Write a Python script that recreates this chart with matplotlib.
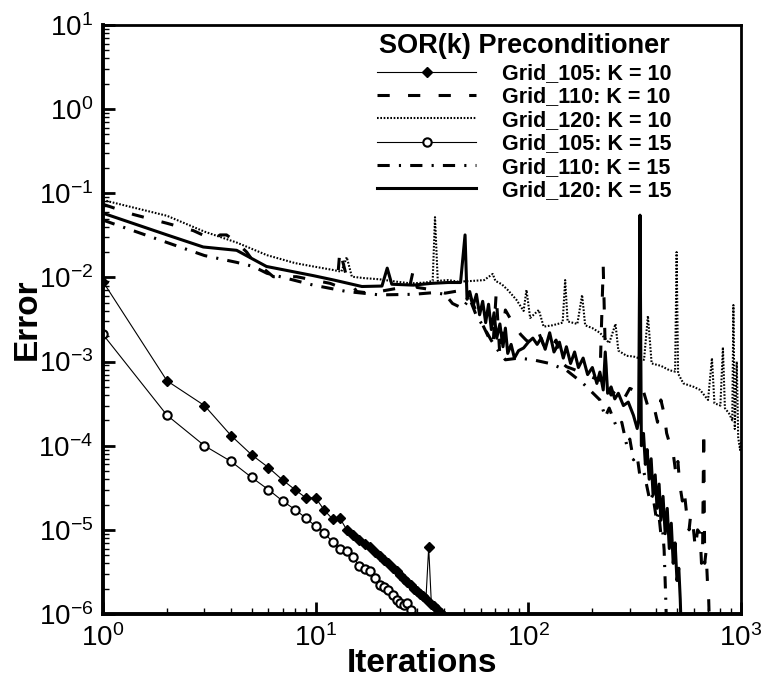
import matplotlib
matplotlib.use("Agg")
import matplotlib.pyplot as plt
from matplotlib.ticker import FixedLocator, LogFormatterSciNotation, NullFormatter

plt.rcParams['font.family'] = ['Liberation Sans', 'DejaVu Sans']
plt.rcParams['mathtext.fontset'] = 'custom'
plt.rcParams['mathtext.rm'] = 'Liberation Sans'
plt.rcParams['mathtext.it'] = 'Liberation Sans:italic'
plt.rcParams['mathtext.bf'] = 'Liberation Sans:bold'

# --- data ---
it_105_k10 = list(range(1, 41))
err_105_k10 = [8.9e-3, 5.9e-4, 3.0e-4, 1.32e-4, 7.8e-5, 5.5e-5, 3.9e-5, 3.0e-5, 2.4e-5, 2.4e-5,
               1.7e-5, 1.35e-5, 1.38e-5, 1.0e-5, 8.7e-6, 7.6e-6, 6.8e-6, 6.3e-6, 5.5e-6, 4.9e-6,
               4.4e-6, 4.0e-6, 3.5e-6, 3.2e-6, 2.9e-6, 2.6e-6, 2.4e-6, 2.2e-6, 2.0e-6, 1.86e-6,
               1.74e-6, 1.62e-6, 1.51e-6, 6.2e-6, 1.32e-6, 1.23e-6, 1.15e-6, 1.07e-6, 1.02e-6, 9.5e-7]

it_105_k15 = list(range(1, 30))
err_105_k15 = [2.1e-3, 2.3e-4, 1.0e-4, 6.5e-5, 4.2e-5, 3.0e-5, 2.2e-5, 1.74e-5, 1.38e-5, 1.1e-5,
               9.3e-6, 7.1e-6, 6.0e-6, 5.6e-6, 4.8e-6, 3.7e-6, 3.4e-6, 3.2e-6, 2.7e-6, 2.2e-6,
               2.1e-6, 1.95e-6, 1.7e-6, 1.48e-6, 1.35e-6, 1.29e-6, 1.35e-6, 1.12e-6, 9.3e-7]

it_110_k10 = [1, 1.39, 2, 2.66, 3.3, 3.55, 3.81, 4.25, 4.74, 5.09, 5.78, 6.32, 8.13, 11.7, 12.6, 13.0,
              14.0, 15.6, 18.0, 24, 27.5, 28.8, 30, 35.8, 40.6, 49.7, 53.2, 58, 61.6, 68.2, 70.6,
              73.5, 78, 85, 92, 98, 105, 112, 120, 126, 135, 142, 151, 165, 181, 200, 217, 225,
              232, 245, 260, 280, 300, 312, 330, 348, 370, 390, 405, 420, 435, 447, 465, 480, 495,
              505, 515, 530, 540, 553, 570, 580, 594, 610, 625, 642, 652, 660, 668, 675, 685, 695,
              705, 712]
err_110_k10 = [7.4e-2, 5.6e-2, 4.4e-2, 3.6e-2, 2.8e-2, 3.2e-2, 3.2e-2, 2.6e-2, 2.0e-2, 1.55e-2,
               1.23e-2, 1.02e-2, 1.02e-2, 8.5e-3, 7.9e-3, 2.1e-2, 1.0e-2, 6.8e-3, 6.5e-3, 7.4e-3,
               7.2e-3, 1.23e-2, 7.6e-3, 7.1e-3, 6.5e-3, 7.1e-3, 5.9e-3, 3.5e-3, 2.6e-3, 1.51e-3,
               6.5e-3, 1.15e-3, 4.1e-3, 2.8e-3, 2.1e-3, 1.78e-3, 1.66e-3, 2.2e-3, 1.4e-3, 1.32e-3,
               1.8e-3, 1.0e-3, 8.7e-4, 8.0e-4, 7.2e-4, 6.5e-4, 6.0e-4, 1.35e-2, 5.5e-4, 4.0e-4,
               4.6e-4, 3.5e-4, 4.8e-4, 4.6e-4, 3.8e-4, 4.4e-4, 2.6e-4, 2.9e-4, 1.9e-4, 3.5e-4,
               2.4e-4, 1.41e-4, 1.0e-4, 8.1e-5, 4.5e-5, 6.5e-5, 3.5e-5, 2.2e-5, 3.0e-5, 1.7e-5,
               1.0e-5, 1.5e-5, 1.2e-5, 6.0e-6, 1.0e-5, 9.1e-6, 4.0e-6, 6.3e-6, 1.51e-4, 4.0e-6,
               5.5e-6, 2.5e-6, 1.45e-6, 6.3e-7]

it_120_k10 = [1, 2, 3, 4.25, 5.9, 8, 9.75, 12, 13.2, 14, 14.8, 17, 20, 24, 28, 33, 35.5, 36.4, 37.5,
              42, 47, 55, 62, 68, 70, 75, 80, 88, 95, 98, 102, 112, 118, 130, 145, 149, 153, 170,
              179, 185, 200, 217, 240, 257, 265, 290, 312, 350, 365, 380, 420, 460, 490, 498, 506,
              536, 600, 642, 700, 730, 750, 800, 822, 840, 880, 910, 921, 935, 955, 970, 990, 1000]
err_120_k10 = [8.3e-2, 5.4e-2, 3.5e-2, 2.6e-2, 1.84e-2, 1.48e-2, 1.35e-2, 1.23e-2, 1.17e-2, 1.74e-2,
               1.02e-2, 9.8e-3, 9.5e-3, 8.9e-3, 8.5e-3, 8.7e-3, 9.1e-3, 5.2e-2, 9.1e-3, 9.3e-3,
               8.9e-3, 9.1e-3, 9.3e-3, 1.1e-2, 9.1e-3, 8.3e-3, 7.1e-3, 5.4e-3, 4.0e-3, 7.1e-3,
               3.3e-3, 4.1e-3, 2.6e-3, 2.7e-3, 2.9e-3, 9.3e-3, 3.0e-3, 2.8e-3, 6.2e-3, 2.7e-3,
               2.5e-3, 2.2e-3, 1.66e-3, 2.8e-3, 1.35e-3, 1.17e-3, 1.15e-3, 1.05e-3, 3.5e-3, 9.5e-4,
               8.9e-4, 7.9e-4, 7.6e-4, 2.0e-2, 7.2e-4, 5.5e-4, 5.0e-4, 4.6e-4, 3.5e-4, 1.1e-3,
               3.2e-4, 3.0e-4, 1.48e-3, 2.8e-4, 2.4e-4, 2.0e-4, 4.7e-3, 1.58e-4, 1.0e-3, 1.26e-4,
               8.9e-5, 1.12e-4]

it_110_k15 = [1, 2, 3, 4.25, 5.09, 5.9, 9.75, 14, 20, 28.8, 36, 40.6, 44, 49, 53, 57, 61.6, 67,
              73.5, 78, 90, 105, 126, 151, 181, 217, 230, 240, 260, 275, 291, 300, 312, 325, 335,
              350, 373, 385, 401, 410, 420, 428, 435, 443, 447]
err_110_k15 = [4.8e-2, 2.6e-2, 1.82e-2, 1.51e-2, 1.35e-2, 1.12e-2, 8.1e-3, 6.8e-3, 6.2e-3, 6.3e-3,
               6.6e-3, 6.3e-3, 4.9e-3, 4.3e-3, 5.6e-3, 3.5e-3, 2.6e-3, 1.78e-3, 1.26e-3, 1.05e-3,
               1.1e-3, 1.05e-3, 9.5e-4, 7.9e-4, 5.5e-4, 3.5e-4, 2.2e-4, 2.8e-4, 1.66e-4, 1.9e-4,
               9.8e-5, 1.2e-4, 6.8e-5, 7.5e-5, 4.3e-5, 4.8e-5, 2.2e-5, 2.6e-5, 1.29e-5, 1.6e-5,
               8.9e-6, 1.0e-5, 5.8e-6, 1.45e-6, 6.3e-7]

it_120_k15 = [1, 2, 2.96, 4.25, 5.87, 9.75, 12.2, 16.5, 20.5, 21.7, 22.8, 28.8, 35, 41.8, 48, 50.4,
              51.5, 53, 55, 57, 59, 61, 63, 65, 67, 69, 71, 73.5, 76, 78, 80, 83, 86, 90, 95, 100,
              105, 110, 115, 120, 126, 132, 140, 146, 151, 158, 165, 172, 181, 190, 200, 210, 217,
              225, 230, 236, 245, 255, 265, 280, 295, 312, 325, 330, 335, 340, 348, 355, 362, 370,
              378, 386, 395, 403, 412, 420, 430, 440, 450, 460, 470, 480, 490, 500, 510, 518, 525]
err_120_k15 = [5.8e-2, 3.2e-2, 2.3e-2, 2.1e-2, 1.35e-2, 1.05e-2, 9.3e-3, 7.8e-3, 7.9e-3, 1.29e-2,
               8.3e-3, 8.1e-3, 8.5e-3, 8.7e-3, 8.7e-3, 3.2e-2,
               5.5e-3, 6.8e-3, 4.6e-3, 6.3e-3, 3.6e-3, 5.2e-3, 2.9e-3, 4.8e-3, 2.4e-3, 3.8e-3,
               1.9e-3, 2.8e-3, 1.5e-3, 2.5e-3, 1.25e-3, 1.6e-3, 1.1e-3, 1.35e-3, 1.45e-3, 1.7e-3,
               1.9e-3, 1.6e-3, 1.9e-3, 1.4e-3, 2.2e-3, 1.3e-3, 1.7e-3, 1.1e-3, 1.5e-3, 9.5e-4,
               1.3e-3, 8.5e-4, 1.1e-3, 7.0e-4, 8.5e-4, 5.5e-4, 7.5e-4, 4.6e-4, 1.3e-3, 4.2e-4,
               5.0e-4, 3.6e-4, 4.2e-4, 3.0e-4, 3.3e-4, 2.3e-4, 1.6e-4, 2.0e-4, 5.5e-2, 1.0e-4,
               1.4e-4, 6.0e-5, 9.0e-5, 4.0e-5, 7.0e-5, 2.6e-5, 4.5e-5, 1.8e-5, 3.5e-5, 1.3e-5,
               2.5e-5, 9.0e-6, 1.8e-5, 6.0e-6, 1.2e-5, 4.0e-6, 7.0e-6, 2.5e-6, 3.5e-6, 1.5e-6,
               5.0e-7]

x_major = [1, 10, 100, 1000]
y_major = [1e-6, 1e-5, 1e-4, 1e-3, 1e-2, 1e-1, 1, 10]

fig = plt.figure(figsize=(7.65, 6.82), dpi=100)
ax = fig.add_axes([103 / 765, 68 / 682, 638 / 765, 589 / 682])

ax.plot(it_105_k10, err_105_k10, color='black', lw=0.8, marker='D', ms=5,
        label='Grid_105: K = 10')
ax.plot(it_110_k10, err_110_k10, color='black', lw=2.2, ls=(0, (4, 6)),
        label='Grid_110: K = 10')
ax.plot(it_120_k10, err_120_k10, color='black', lw=1.5, ls=(0, (0.8, 0.8)),
        label='Grid_120: K = 10')
ax.plot(it_105_k15, err_105_k15, color='black', lw=0.8, marker='o', ms=6, mew=1.5,
        mfc='white', label='Grid_105: K = 15')
ax.plot(it_110_k15, err_110_k15, color='black', lw=2.2, ls=(0, (4, 3, 0.7, 3)),
        label='Grid_110: K = 15')
ax.plot(it_120_k15, err_120_k15, color='black', lw=2.2, label='Grid_120: K = 15')

ax.set_xscale('log')
ax.set_yscale('log')
ax.set_xlim(1, 1000)
ax.set_ylim(1e-6, 10)

# only ticks inside the view, minor ticks at 2..9 of each decade
ax.xaxis.set_major_locator(FixedLocator(x_major))
ax.yaxis.set_major_locator(FixedLocator(y_major))
ax.xaxis.set_minor_locator(FixedLocator([m * d for d in x_major[:-1] for m in range(2, 10)]))
ax.yaxis.set_minor_locator(FixedLocator([m * d for d in y_major[:-1] for m in range(2, 10)]))
for axis in [ax.xaxis, ax.yaxis]:
    axis.set_major_formatter(LogFormatterSciNotation())
    axis.set_minor_formatter(NullFormatter())

for side in ['left', 'bottom']:
    ax.spines[side].set_linewidth(2.8)
for side in ['top', 'right']:
    ax.spines[side].set_linewidth(2.0)

ax.tick_params(which='major', direction='in', length=8.5, width=2.0, labelsize=20, pad=7,
               top=False, right=False)
ax.tick_params(which='minor', direction='in', length=4.5, width=1.0, top=False, right=False)

ax.set_xlabel('Iterations', fontsize=24, fontweight='bold', labelpad=0)
ax.set_ylabel('Error', fontsize=24, fontweight='bold')
ax.xaxis.set_label_coords(0.5, -0.058)
ax.yaxis.set_label_coords(-0.094, 0.5)

leg = ax.legend(loc='upper left', bbox_to_anchor=(377 / 765, 1 - 33 / 682),
                bbox_transform=fig.transFigure, frameon=False, numpoints=1,
                handlelength=4.6, handletextpad=1.2, labelspacing=0.11,
                borderpad=0, borderaxespad=0,
                prop={'size': 15.5, 'weight': 'bold'},
                title='SOR(k) Preconditioner',
                title_fontproperties={'size': 19.5, 'weight': 'bold'})
leg._legend_box.sep = 3

fig.savefig('out.png', dpi=100)
